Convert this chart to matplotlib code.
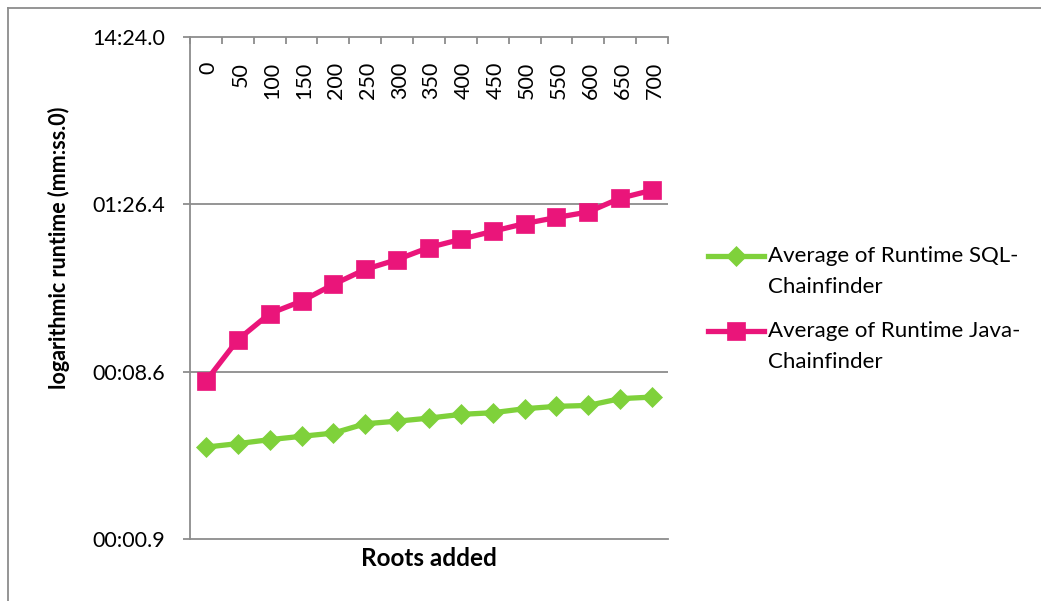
import numpy as np
import matplotlib
matplotlib.use("Agg")
import matplotlib.pyplot as plt
from matplotlib.lines import Line2D
from matplotlib.ticker import FixedLocator, NullFormatter

plt.rcParams['font.family'] = ['Lato', 'DejaVu Sans']

# Data (seconds)
roots = [0, 50, 100, 150, 200, 250, 300, 350, 400, 450, 500, 550, 600, 650, 700]
sql_runtime = [3.06, 3.21, 3.39, 3.55, 3.71, 4.22, 4.37, 4.56, 4.80, 4.91,
               5.19, 5.36, 5.43, 5.96, 6.09]
java_runtime = [7.59, 13.4, 19.2, 22.8, 28.7, 35.3, 40.4, 47.7, 53.4, 59.6,
                66.3, 72.1, 77.8, 94.0, 104.9]
ytick_values = [0.864, 8.64, 86.4, 864]
ytick_labels = ['00:00.9', '00:08.6', '01:26.4', '14:24.0']

green = '#7FD13B'
pink = '#EA157A'
grey = '#8C8C8C'

fig = plt.figure(figsize=(10.41, 6.01), dpi=100)
ax = fig.add_axes([190/1041, 62/601, 478/1041, 502/601])

idx = np.arange(len(roots))
ax.plot(idx, sql_runtime, color=green, lw=3.8, marker='D', ms=10.5,
        mec=green, mew=0.5, label='Average of Runtime SQL-\nChainfinder')
ax.plot(idx, java_runtime, color=pink, lw=3.8, marker='s', ms=13.5,
        mec=pink, mew=0.5, label='Average of Runtime Java-\nChainfinder')

ax.set_yscale('log')
ax.set_ylim(ytick_values[0], ytick_values[-1])
ax.set_xlim(-0.5, len(roots) - 0.5)
ax.yaxis.set_major_locator(FixedLocator(ytick_values))
ax.yaxis.set_minor_locator(FixedLocator([]))
ax.set_yticklabels(ytick_labels)
ax.tick_params(axis='y', which='major', direction='out', length=5, width=1.3,
               color=grey, labelsize=15.5, pad=13)

for v in ytick_values[1:-1]:
    ax.axhline(v, color=grey, lw=1.3, zorder=0)

# Category axis drawn along the top, ticks between categories
ax.xaxis.set_ticks_position('top')
ax.set_xticks(np.arange(len(roots) + 1) - 0.5)
ax.xaxis.set_major_formatter(NullFormatter())
ax.tick_params(axis='x', which='major', direction='in', length=5, width=1.3,
               color=grey)
for i, r in zip(idx, roots):
    ax.text(i + 0.08, 0.95, str(r), transform=ax.get_xaxis_transform(),
            rotation=90, ha='center', va='top', fontsize=15.5)

for s in ['left', 'top', 'bottom']:
    ax.spines[s].set_color(grey)
    ax.spines[s].set_linewidth(1.3)
ax.spines['right'].set_visible(False)

ax.set_ylabel('logarithmic runtime (mm:ss.0)', fontsize=15.5,
              fontweight='bold')
ax.yaxis.set_label_coords(-0.252, 0.58)
fig.text(429/1041, 1 - 558/601, 'Roots added', ha='center', va='center',
         fontsize=17.5, fontweight='bold')

leg = ax.legend(loc='upper left', bbox_to_anchor=(708/1041, 1 - 246/601),
                bbox_transform=fig.transFigure, frameon=False, fontsize=16,
                handlelength=2.5, handleheight=1.25, handletextpad=0.2,
                labelspacing=1.07, borderaxespad=0, borderpad=0)
for t in leg.get_texts():
    t.set_linespacing(1.7)
# put each legend marker beside the first line of its label
for col in leg._legend_handle_box.get_children():
    for row in col.get_children():
        row.align = 'top'

# outer chart frame
fig.add_artist(Line2D([7.5/1041, 1], [1 - 8/601, 1 - 8/601],
                      transform=fig.transFigure, color=grey, lw=1.3))
fig.add_artist(Line2D([7.5/1041, 7.5/1041], [0, 1 - 8/601],
                      transform=fig.transFigure, color=grey, lw=1.3))

fig.savefig('out.png', dpi=100)
